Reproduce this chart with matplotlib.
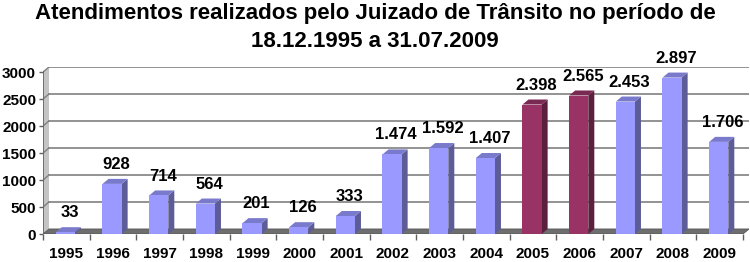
import numpy as np
import matplotlib
matplotlib.use("Agg")
import matplotlib.pyplot as plt
from matplotlib.patches import Polygon

# dados
anos = ["1995", "1996", "1997", "1998", "1999", "2000", "2001", "2002",
        "2003", "2004", "2005", "2006", "2007", "2008", "2009"]
atendimentos = [33, 928, 714, 564, 201, 126, 333, 1474,
                1592, 1407, 2398, 2565, 2453, 2897, 1706]
destaque = ["2005", "2006"]
yticks = [0, 500, 1000, 1500, 2000, 2500, 3000]

plt.rcParams['font.family'] = ['Liberation Sans', 'DejaVu Sans']
plt.rcParams['font.weight'] = 'bold'

fig = plt.figure(figsize=(7.5, 2.62), dpi=100)
ax = fig.add_axes([43 / 750, (262 - 234) / 262, (749 - 43) / 750, (234 - 67) / 262])

n = len(anos)
dx = 0.1286   # profundidade 3D em x (dados)
dy = 93.0     # profundidade 3D em y (dados)
ymax = 3000

ax.set_xlim(-0.5, n - 0.5 + dx)
ax.set_ylim(0, ymax + dy)
for s in ax.spines.values():
    s.set_visible(False)

# parede esquerda
ax.add_patch(Polygon([(-0.5, 0), (-0.5 + dx, dy), (-0.5 + dx, ymax + dy), (-0.5, ymax)],
                     closed=True, facecolor="#c4c4c4", edgecolor="none", zorder=1))
# piso
ax.add_patch(Polygon([(-0.5, 0), (n - 0.5, 0), (n - 0.5 + dx, dy), (-0.5 + dx, dy)],
                     closed=True, facecolor="#6e6e6e", edgecolor="#555555", lw=0.6, zorder=2))

# linhas de grade (parede de fundo e parede esquerda)
for v in yticks[1:]:
    ax.plot([-0.5 + dx, n - 0.5 + dx], [v + dy, v + dy], color="#808080", lw=1.2, zorder=1.5)
    ax.plot([-0.5, -0.5 + dx], [v, v + dy], color="#808080", lw=1.0, zorder=1.5)
ax.plot([-0.5, -0.5], [0, ymax], color="#606060", lw=1.2, zorder=3)

# barras 3D
w = 0.41
for i, (ano, v) in enumerate(zip(anos, atendimentos)):
    if ano in destaque:
        frente, lado, topo = "#993366", "#5c1f3d", "#7a2952"
    else:
        frente, lado, topo = "#9999ff", "#5c5c99", "#7a7acc"
    x0 = i - 0.02 - w / 2
    x1 = x0 + w
    ax.add_patch(Polygon([(x1, 0), (x1 + dx, dy), (x1 + dx, v + dy), (x1, v)],
                         closed=True, facecolor=lado, edgecolor="none", zorder=4))
    ax.add_patch(Polygon([(x0, v), (x1, v), (x1 + dx, v + dy), (x0 + dx, v + dy)],
                         closed=True, facecolor=topo, edgecolor="none", zorder=4))
    ax.bar(x0, v, width=w, align="edge", color=frente, edgecolor="none", zorder=5)
    rotulo = f"{v:,}".replace(",", ".")
    ax.annotate(rotulo, (i + 0.07, v), xytext=(0, 14), textcoords="offset points",
                ha="center", va="center", fontsize=12, fontweight="bold", zorder=6)

# eixos
ax.set_yticks(yticks)
ax.set_yticklabels([str(v) for v in yticks], fontsize=11, fontweight="bold")
ax.tick_params(axis="y", length=3, width=1, color="#606060", pad=2)
ax.set_xticks(range(n))
ax.set_xticklabels(anos, fontsize=11, fontweight="bold")
ax.tick_params(axis="x", which="major", length=0, pad=9)
ax.set_xticks(np.arange(-0.5, n, 1.0), minor=True)
ax.tick_params(axis="x", which="minor", length=4, width=1, color="#606060")

fig.text(0.5, 1 - 13 / 262, "Atendimentos realizados pelo Juizado de Trânsito no período de",
         ha="center", va="center", fontsize=16, fontweight="bold")
fig.text(0.5, 1 - 42 / 262, "18.12.1995 a 31.07.2009",
         ha="center", va="center", fontsize=16, fontweight="bold")

fig.savefig("out.png", dpi=100)
